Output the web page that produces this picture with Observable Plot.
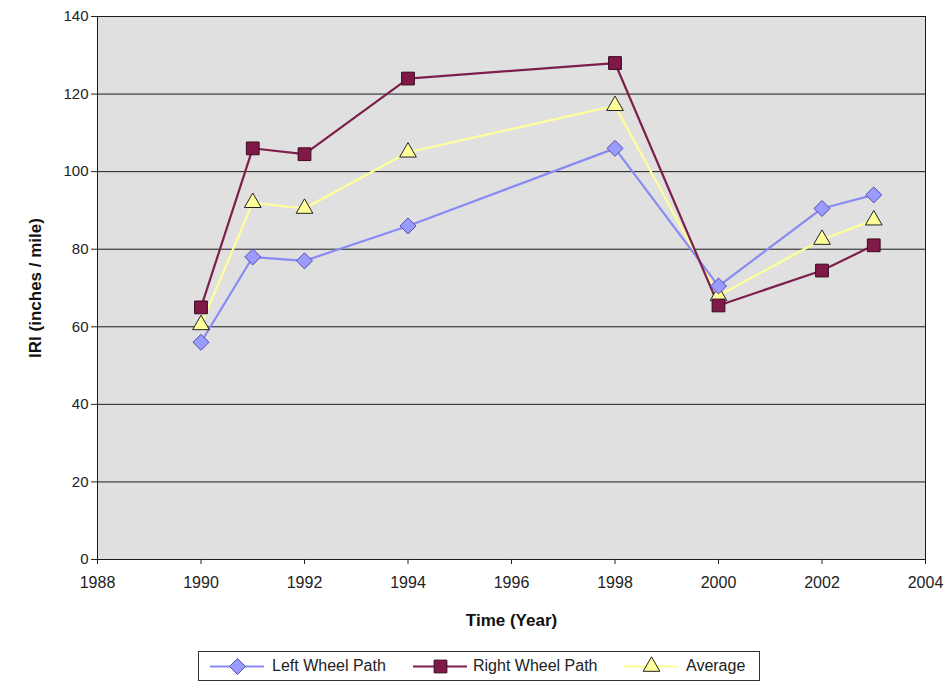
<!DOCTYPE html>
<html>
<head>
<meta charset="utf-8">
<script src="https://cdn.jsdelivr.net/npm/d3@7"></script>
<script src="https://cdn.jsdelivr.net/npm/@observablehq/plot@0.6"></script>
<style>
  html, body { margin: 0; padding: 0; background: #fff; }
  body { width: 947px; height: 689px; position: relative; font-family: "Liberation Sans", Arial, sans-serif; overflow: hidden; }
  #legend { position: absolute; left: 198px; top: 651px; width: 562px; height: 30px; border: 1px solid #333; box-sizing: border-box; font-size: 16px; color: #222; background: #fff; }
  #legend .sample { position: absolute; top: 4px; }
  #legend .label { position: absolute; top: 5px; white-space: nowrap; line-height: 18px; }
</style>
</head>
<body>
<div id="chart"></div>
<div id="legend"></div>
<script>
const years = [1990, 1991, 1992, 1994, 1998, 2000, 2002, 2003];
const leftWheel = [56, 78, 77, 86, 106, 70.5, 90.5, 94];
const rightWheel = [65, 106, 104.5, 124, 128, 65.5, 74.5, 81];
const average = [60.5, 92, 90.5, 105, 117, 68, 82.5, 87.5];
const seriesNames = ["Left Wheel Path", "Right Wheel Path", "Average"];
const xTicks = [1988, 1990, 1992, 1994, 1996, 1998, 2000, 2002, 2004];
const yTicks = [0, 20, 40, 60, 80, 100, 120, 140];

const styles = {
  "Left Wheel Path": {line: "#8a8af5", fill: "#9a9aff", stroke: "#4f4fa8", symbol: "diamond2", r: 7.2},
  "Right Wheel Path": {line: "#7d1f4c", fill: "#801848", stroke: "#3a0a20", symbol: "square", r: 7.2},
  "Average": {line: "#ffff99", fill: "#ffff99", stroke: "#222", symbol: "triangle", r: 6.2}
};

const seriesValues = [leftWheel, rightWheel, average];
const data = seriesNames.map((name, i) => years.map((year, j) => ({series: name, year, value: seriesValues[i][j]})));

const marks = [
  Plot.frame({fill: "#e0e0e0", stroke: "none"}),
  Plot.ruleY(yTicks.filter(d => d > 0), {stroke: "#1a1a1a", strokeWidth: 1}),
  Plot.frame({stroke: "#1a1a1a", strokeWidth: 1}),
  Plot.axisX({ticks: xTicks, tickFormat: d => String(d), tickSize: 5, tickPadding: 12, fontSize: 16, label: null, color: "#222"}),
  Plot.axisY({ticks: yTicks, tickSize: 6, tickPadding: 3, fontSize: 15, label: null, color: "#222"}),
  Plot.text(["Time (Year)"], {frameAnchor: "bottom", dy: 66, fontSize: 17, fontWeight: "bold", fill: "#111"}),
  Plot.text(["IRI (inches / mile)"], {frameAnchor: "left", textAnchor: "middle", dx: -62, rotate: -90, fontSize: 17, fontWeight: "bold", fill: "#111"})
];
const order = [2, 0, 1];
for (const i of order) {
  const s = styles[seriesNames[i]];
  marks.push(Plot.line(data[i], {x: "year", y: "value", stroke: s.line, strokeWidth: 2.2}));
}
for (const i of order) {
  const s = styles[seriesNames[i]];
  marks.push(Plot.dot(data[i], {x: "year", y: "value", symbol: () => s.symbol, fill: s.fill, stroke: s.stroke, strokeWidth: 1, r: s.r}));
}

const chart = Plot.plot({
  width: 947,
  height: 640,
  marginLeft: 97,
  marginRight: 22,
  marginTop: 16,
  marginBottom: 81,
  style: {fontFamily: "'Liberation Sans', Arial, sans-serif", background: "#fff", overflow: "visible"},
  x: {domain: [1988, 2004]},
  y: {domain: [0, 140]},
  symbol: {type: "identity"},
  marks
});
document.getElementById("chart").appendChild(chart);

// legend
const legend = document.getElementById("legend");
const samplePos = [11, 214, 425];
const labelPos = [73, 274, 487];
seriesNames.forEach((name, i) => {
  const s = styles[name];
  const sw = Plot.plot({
    width: 54, height: 20, margin: 0,
    x: {domain: [0, 54], axis: null}, y: {domain: [0, 20], axis: null},
    symbol: {type: "identity"},
    style: {background: "transparent", overflow: "visible"},
    marks: [
      Plot.ruleY([10], {x1: 0, x2: 54, stroke: s.line, strokeWidth: 2.2}),
      Plot.dot([{x: 27, y: 10}], {x: "x", y: "y", symbol: () => s.symbol, fill: s.fill, stroke: s.stroke, strokeWidth: 1, r: s.r})
    ]
  });
  sw.classList.add("sample");
  sw.style.left = samplePos[i] + "px";
  legend.appendChild(sw);
  const t = document.createElement("div");
  t.className = "label";
  t.style.left = labelPos[i] + "px";
  t.textContent = name;
  legend.appendChild(t);
});
</script>
</body>
</html>
